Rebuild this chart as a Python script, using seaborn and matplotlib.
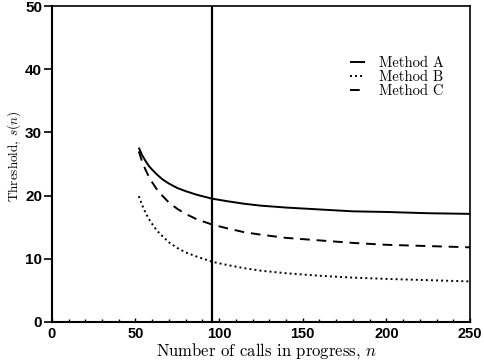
import matplotlib
matplotlib.use("Agg")
import matplotlib.pyplot as plt
import seaborn as sns
import pandas as pd
from matplotlib.ticker import MultipleLocator

# Number of calls in progress and the threshold curve of each method
n_calls = [52, 54, 56, 58, 60, 63, 66, 70, 75, 80, 87, 96, 105, 115, 125,
           140, 160, 180, 200, 225, 250]
method_a = [27.6, 26.4, 25.5, 24.7, 24.1, 23.3, 22.6, 21.9, 21.2, 20.7, 20.1,
            19.5, 19.1, 18.7, 18.4, 18.1, 17.8, 17.5, 17.4, 17.2, 17.1]
method_b = [19.9, 18.5, 17.3, 16.3, 15.5, 14.4, 13.6, 12.6, 11.7, 11.0, 10.3,
            9.5, 9.0, 8.5, 8.1, 7.7, 7.3, 7.0, 6.8, 6.6, 6.4]
method_c = [27.0, 25.4, 24.1, 23.0, 22.1, 20.9, 20.0, 18.9, 17.9, 17.1, 16.2,
            15.4, 14.8, 14.2, 13.8, 13.3, 12.9, 12.5, 12.2, 12.0, 11.8]
series_names = ["Method A", "Method B", "Method C"]
marker_n = 96

x_ticks = [0, 50, 100, 150, 200, 250]
y_ticks = [0, 10, 20, 30, 40, 50]

df = pd.DataFrame({
    "n": n_calls * 3,
    "s": method_a + method_b + method_c,
    "method": [series_names[0]] * len(n_calls)
              + [series_names[1]] * len(n_calls)
              + [series_names[2]] * len(n_calls),
})

sns.set_theme(style="white")
plt.rcParams["mathtext.fontset"] = "cm"
plt.rcParams["axes.unicode_minus"] = False
for key in ("text.color", "axes.labelcolor", "xtick.color", "ytick.color",
            "axes.edgecolor"):
    plt.rcParams[key] = "black"

fig = plt.figure(figsize=(4.84, 3.6), dpi=100)
ax = fig.add_axes([0.107, 0.106, 0.864, 0.877])

styles = {"Method A": (0, ()), "Method B": (0, (1.0, 1.6)), "Method C": (0, (5, 3.5))}
for name in series_names:
    sns.lineplot(data=df[df["method"] == name], x="n", y="s", ax=ax,
                 color="black", linewidth=1.4, linestyle=styles[name],
                 label=name, estimator=None, sort=True)

ax.axvline(marker_n, color="black", linewidth=1.6)

ax.set_xlim(0, 250)
ax.set_ylim(0, 50)
ax.set_xticks(x_ticks)
ax.set_yticks(y_ticks)
ax.xaxis.set_minor_locator(MultipleLocator(10))

ax.set_xticklabels([str(v) for v in x_ticks],
                   fontdict={"family": "Liberation Sans", "size": 10.5, "weight": "bold"})
ax.set_yticklabels([str(v) for v in y_ticks],
                   fontdict={"family": "Liberation Sans", "size": 11, "weight": "bold"})

ax.tick_params(axis="y", which="major", direction="out", length=6, width=1.2,
               pad=1, left=True, color="black", labelcolor="black")
ax.tick_params(axis="x", which="major", direction="in", length=3, width=1.0,
               pad=4, bottom=True, color="black", labelcolor="black")
ax.tick_params(axis="x", which="minor", direction="in", length=2.5, width=1.0,
               bottom=True, color="black")

for side, sp in ax.spines.items():
    sp.set_color("black")
    sp.set_linewidth(1.5 if side in ("left", "bottom") else 1.2)
    sp.set_visible(True)

ax.set_xlabel("Number of calls in progress, $n$",
              fontdict={"family": "cmr10", "size": 12, "color": "black"})
ax.set_ylabel("Threshold, $s(n)$",
              fontdict={"family": "cmr10", "size": 9.5, "color": "black"})
ax.xaxis.set_label_coords(0.514, -0.06)
ax.yaxis.set_label_coords(-0.068, 0.525)

leg = ax.legend(loc="center left", bbox_to_anchor=(0.713, 0.775), frameon=False,
                handlelength=1.05, handletextpad=0.95, labelspacing=0.0,
                borderpad=0, borderaxespad=0,
                prop={"family": "cmr10", "size": 10.5})
for t in leg.get_texts():
    t.set_color("black")

fig.savefig("out.png", dpi=100)
